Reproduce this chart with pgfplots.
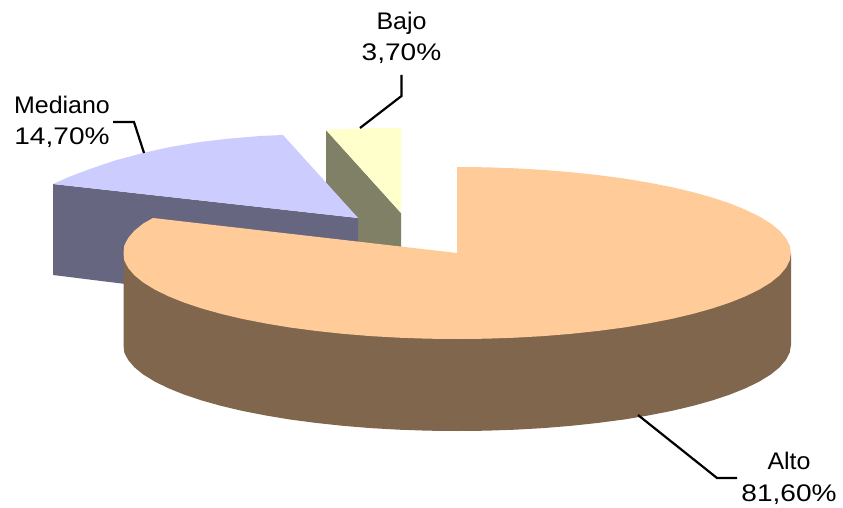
\documentclass[border=0pt]{standalone}
\usepackage{pgfplots}
\usepackage{fontspec}
\setmainfont{Liberation Sans}[FakeStretch=1.17]
\newfontfamily\wordfont{Liberation Sans}[FakeStretch=1.04]
\pgfplotsset{compat=1.18}
\definecolor{peach}{HTML}{FFCC99}
\definecolor{peachdark}{HTML}{80664D}
\definecolor{lilac}{HTML}{CCCCFF}
\definecolor{lilacdark}{HTML}{666680}
\definecolor{cream}{HTML}{FFFFCC}
\definecolor{creamdark}{HTML}{808066}
\begin{document}
\begin{tikzpicture}[lbl/.style={font=\fontsize{24}{24}\selectfont, anchor=base, inner sep=0pt},
    wlbl/.style={font=\fontsize{24}{24}\selectfont\wordfont, anchor=base, inner sep=0pt}]
    \begin{axis}[
        at={(0,0)},
        anchor=south west,
        scale only axis,
        width=843pt,
        height=508pt,
        xmin=0, xmax=843,
        ymin=0, ymax=508,
        y dir=reverse,
        hide axis,
        clip=false,
        no markers,
    ]
    % Bajo
    \addplot[fill=creamdark, draw=none] coordinates {
        (326,130) (401,213) (401,250) (358,250) (358,218) (326,183)
    } --cycle;
    \addplot[fill=cream, draw=none] coordinates {
        (326,130) (345,129) (364,128.3) (401,128) (401,213)
    } --cycle;
    % Mediano
    \addplot[fill=lilacdark, draw=none] coordinates {
        (53,184) (358,218) (358,262) (135,285.2) (53,275)
    } --cycle;
    \addplot[fill=lilac, draw=none] coordinates {
        (53,184) (70,176.5) (90,169) (115,160.5) (143,153) (170,147)
        (200,142) (230,138.5) (260,136) (283,135) (358,218)
    } --cycle;
    % Alto, side
    \addplot[fill=peachdark, draw=none] coordinates {
        (791,253) (791,345) (789.7,352.5) (785.9,359.9) (779.6,367.3) (770.9,374.4)
        (759.7,381.3) (746.2,388) (730.6,394.3) (712.8,400.3) (693.2,405.8)
        (671.7,410.9) (648.6,415.4) (624,419.5) (598.2,422.9) (571.2,425.8)
        (543.4,428.1) (515,429.7) (486.1,430.7) (457,431) (427.9,430.7)
        (399,429.7) (370.6,428.1) (342.8,425.8) (315.8,422.9) (290,419.5)
        (265.4,415.4) (242.3,410.9) (220.8,405.8) (201.2,400.3) (183.4,394.3)
        (167.8,388) (154.3,381.3) (143.1,374.4) (134.4,367.3) (128.1,359.9)
        (124.3,352.5) (123.5,345) (123.5,253)
    } --cycle;
    % Alto, top
    \addplot[fill=peach, draw=none] coordinates {
        (457,167) (486.1,167.3) (515,168.3) (543.4,169.9) (571.2,172.2) (598.2,175.1)
        (624,178.5) (648.6,182.6) (671.7,187.1) (693.2,192.2) (712.8,197.7)
        (730.6,203.7) (746.2,210) (759.7,216.7) (770.9,223.6) (779.6,230.7)
        (785.9,238.1) (789.7,245.5) (791,253) (789.7,260.5) (785.9,267.9)
        (779.6,275.3) (770.9,282.4) (759.7,289.3) (746.2,296) (730.6,302.3)
        (712.8,308.3) (693.2,313.8) (671.7,318.9) (648.6,323.4) (624,327.5)
        (598.2,330.9) (571.2,333.8) (543.4,336.1) (515,337.7) (486.1,338.7)
        (457,339) (427.9,338.7) (399,337.7) (370.6,336.1) (342.8,333.8)
        (315.8,330.9) (290,327.5) (265.4,323.4) (242.3,318.9) (220.8,313.8)
        (201.2,308.3) (183.4,302.3) (167.8,296) (154.3,289.3) (143.1,282.4)
        (134.4,275.3) (128.1,267.9) (124.3,260.5) (123.5,253) (124.3,245.5)
        (128.1,238.1) (134.4,230.7) (143.1,223.6) (153,218) (457,253)
    } --cycle;
    % leader lines
    \addplot[black, line width=2.2pt] coordinates {(401.5,75) (401.5,96) (360,128)};
    \addplot[black, line width=2.2pt] coordinates {(113,122) (134,122) (144,153)};
    \addplot[black, line width=2.2pt] coordinates {(638,415) (717,478) (737,478)};
    % labels
    \node[wlbl] at (axis cs:401.5,30) {Bajo};
    \node[lbl] at (axis cs:401.5,60.5) {3,70\%};
    \node[wlbl] at (axis cs:62,114) {Mediano};
    \node[lbl] at (axis cs:62,144.5) {14,70\%};
    \node[wlbl] at (axis cs:789,469) {Alto};
    \node[lbl] at (axis cs:789,501.5) {81,60\%};
    \end{axis}
    \path[use as bounding box] (0,0) rectangle (843pt,508pt);
\end{tikzpicture}
\end{document}
